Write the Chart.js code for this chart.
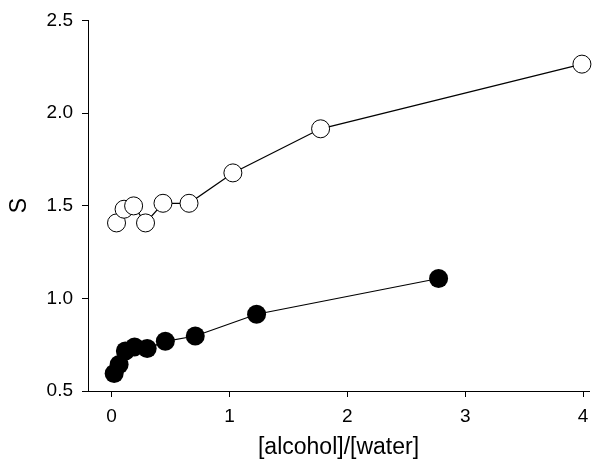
<!DOCTYPE html>
<html>
<head>
<meta charset="utf-8">
<script src="https://cdn.jsdelivr.net/npm/chart.js@4/dist/chart.umd.min.js"></script>
<style>
html,body{margin:0;padding:0;background:#fff;}
#wrap{width:599px;height:463px;}
</style>
</head>
<body>
<div id="wrap"><canvas id="c" width="599" height="463"></canvas></div>
<script>
const openX = [0.042, 0.106, 0.187, 0.288, 0.436, 0.657, 1.029, 1.773, 3.99];
const openY = [1.407, 1.481, 1.499, 1.407, 1.513, 1.513, 1.677, 1.915, 2.264];
const filledX = [0.022, 0.064, 0.117, 0.195, 0.302, 0.456, 0.710, 1.230, 2.774];
const filledY = [0.594, 0.643, 0.716, 0.738, 0.729, 0.768, 0.797, 0.914, 1.107];
const xTicks = [0, 1, 2, 3, 4];
const yTicks = [0.5, 1.0, 1.5, 2.0, 2.5];
const xTitle = '[alcohol]/[water]';
const yTitle = 'S';

const pts = (xs, ys) => xs.map((x, i) => ({x: x, y: ys[i]}));
const fontFam = '"Liberation Sans", Arial, sans-serif';

new Chart(document.getElementById('c'), {
  type: 'scatter',
  data: {
    datasets: [
      {
        data: pts(openX, openY),
        showLine: true,
        borderColor: '#000',
        borderWidth: 1.2,
        pointRadius: 9,
        pointBorderWidth: 1,
        pointBackgroundColor: '#fff',
        pointBorderColor: '#000',
        clip: false
      },
      {
        data: pts(filledX, filledY),
        showLine: true,
        borderColor: '#000',
        borderWidth: 1.2,
        pointRadius: 9.5,
        pointBorderWidth: 0,
        pointBackgroundColor: '#000',
        pointBorderColor: '#000',
        clip: false
      }
    ]
  },
  options: {
    responsive: false,
    animation: false,
    events: [],
    layout: {padding: {top: 20, right: 4, left: 0, bottom: 0}},
    plugins: {legend: {display: false}, tooltip: {enabled: false}},
    scales: {
      x: {
        type: 'linear',
        min: -0.2,
        max: 4.05,
        afterBuildTicks: s => { s.ticks = xTicks.map(v => ({value: v})); },
        afterFit: s => { s.height = 72; },
        grid: {drawOnChartArea: false, drawTicks: true, tickLength: 6, color: '#000'},
        border: {display: true, color: '#000', width: 1},
        ticks: {color: '#000', padding: 8, font: {family: fontFam, size: 19}, callback: v => String(v)},
        title: {display: true, text: xTitle, color: '#000', font: {family: fontFam, size: 23}, padding: {top: 0, bottom: 2}}
      },
      y: {
        type: 'linear',
        min: 0.5,
        max: 2.5,
        afterBuildTicks: s => { s.ticks = yTicks.map(v => ({value: v})); },
        afterFit: s => { s.width = 88; },
        grid: {drawOnChartArea: false, drawTicks: true, tickLength: 6, color: '#000'},
        border: {display: true, color: '#000', width: 1},
        ticks: {color: '#000', padding: 9, font: {family: fontFam, size: 19}, callback: v => Number(v).toFixed(1)},
        title: {display: true, text: yTitle, color: '#000', font: {family: fontFam, size: 23}, padding: {top: 6, bottom: 0}}
      }
    }
  }
});
</script>
</body>
</html>
